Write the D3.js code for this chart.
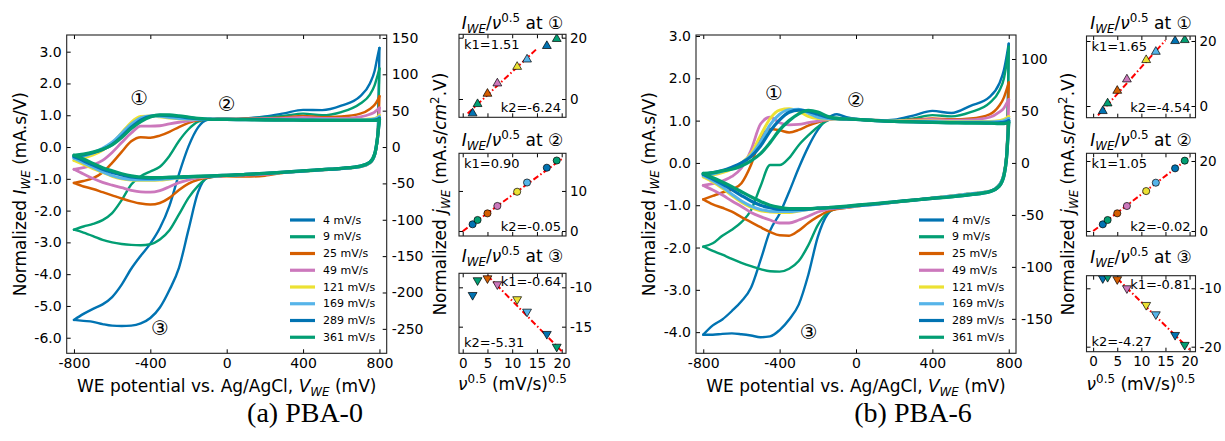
<!DOCTYPE html>
<html>
<head>
<meta charset="utf-8">
<script src="https://cdn.jsdelivr.net/npm/d3@7"></script>
<style>
  html, body { margin: 0; padding: 0; background: #fff; }
  svg { display: block; }
</style>
</head>
<body>
<svg id="chart" width="1225" height="441"></svg>
<script>
// ---------- shared data ----------
const potentials = [-800,-750,-700,-650,-600,-550,-500,-450,-400,-350,-300,-250,-200,-150,-100,-50,
                    0,100,200,300,400,500,600,700,750,775,790,800];
const scanRates = [4, 9, 25, 49, 121, 169, 289, 361];
const rateColors = ["#0173b2","#029e73","#d55e00","#cc78bc","#ece133","#56b4e9","#0173b2","#029e73"];
const rateWidths = [2.4, 2.4, 2.5, 2.8, 2.9, 3.0, 3.2, 3.3];
const potentialTicks = [-800, -400, 0, 400, 800];
const sqrtRateTicks = [0, 5, 10, 15, 20];

// ---------- PBA-0: normalized current (mA.s/V), forward and reverse sweep ----------
const pba0Fwd4   = [-5.44,-5.25,-5.09,-4.95,-4.72,-4.33,-3.83,-3.42,-3.04,-2.55,-1.85,-0.85,0.02,0.62,0.86,0.88, 0.88,0.9,0.96,1.06,1.17,1.16,1.3,1.6, 2.0,2.4,2.85,3.12];
const pba0Rev4   = [-5.44,-5.47,-5.5,-5.57,-5.62,-5.63,-5.62,-5.55,-5.38,-5.05,-4.5,-3.8,-2.6,-1.42,-0.96,-0.92, -0.9,-0.87,-0.84,-0.8,-0.76,-0.72,-0.68,-0.62, -0.5,-0.25,0.3,3.12];
const pba0Fwd9   = [-2.6,-2.5,-2.42,-2.3,-2.08,-1.67,-1.18,-0.92,-0.77,-0.62,-0.28,0.19,0.56,0.8,0.87,0.88, 0.88,0.9,0.93,0.98,1.05,1.0,1.1,1.37, 1.65,1.95,2.25,2.47];
const pba0Rev9   = [-2.6,-2.69,-2.8,-2.92,-3.0,-3.05,-3.08,-3.09,-3.06,-2.91,-2.62,-2.12,-1.6,-1.22,-0.97,-0.92, -0.9,-0.86,-0.83,-0.79,-0.75,-0.71,-0.67,-0.61, -0.48,-0.22,0.3,2.47];
const pba0Fwd25  = [-1.13,-1.07,-0.98,-0.8,-0.5,-0.15,0.18,0.31,0.29,0.36,0.48,0.63,0.76,0.84,0.87,0.88, 0.88,0.89,0.9,0.93,0.98,0.94,0.96,1.05, 1.2,1.33,1.47,1.6];
const pba0Rev25  = [-1.13,-1.24,-1.32,-1.42,-1.52,-1.62,-1.71,-1.78,-1.81,-1.76,-1.6,-1.35,-1.15,-1.03,-0.96,-0.93, -0.92,-0.93,-0.9,-0.81,-0.76,-0.72,-0.68,-0.62, -0.5,-0.25,0.3,1.6];
const pba0Fwd49  = [-0.7,-0.65,-0.56,-0.42,-0.17,0.14,0.44,0.66,0.66,0.67,0.73,0.78,0.82,0.86,0.87,0.88, 0.88,0.88,0.89,0.9,0.93,0.9,0.9,0.95, 1.03,1.1,1.18,1.23];
const pba0Rev49  = [-0.7,-0.85,-0.99,-1.11,-1.2,-1.28,-1.36,-1.41,-1.42,-1.37,-1.25,-1.12,-1.03,-0.97,-0.94,-0.92, -0.9,-0.88,-0.86,-0.8,-0.76,-0.72,-0.68,-0.62, -0.5,-0.25,0.3,1.23];
const pba0Fwd121 = [-0.42,-0.35,-0.25,-0.1,0.12,0.45,0.78,0.96,0.98,0.95,0.91,0.89,0.88,0.87,0.87,0.87, 0.87,0.87,0.87,0.87,0.87,0.86,0.86,0.86, 0.88,0.9,0.95,1.0];
const pba0Rev121 = [-0.42,-0.55,-0.68,-0.8,-0.92,-1.0,-1.04,-1.05,-1.05,-1.04,-1.01,-0.98,-0.96,-0.94,-0.93,-0.91, -0.89,-0.86,-0.83,-0.8,-0.76,-0.72,-0.68,-0.62, -0.5,-0.25,0.3,1.0];
const pba0Fwd169 = [-0.35,-0.28,-0.18,-0.04,0.15,0.43,0.72,0.92,0.98,0.97,0.93,0.9,0.88,0.87,0.87,0.87, 0.87,0.87,0.86,0.86,0.86,0.86,0.85,0.85, 0.86,0.88,0.92,0.95];
const pba0Rev169 = [-0.35,-0.5,-0.64,-0.78,-0.9,-0.98,-1.02,-1.03,-1.03,-1.02,-1.0,-0.97,-0.95,-0.93,-0.92,-0.91, -0.89,-0.86,-0.83,-0.8,-0.76,-0.72,-0.68,-0.62, -0.5,-0.25,0.3,0.95];
const pba0Fwd289 = [-0.3,-0.25,-0.18,-0.08,0.08,0.33,0.62,0.85,0.97,1.0,0.99,0.96,0.92,0.89,0.88,0.87, 0.87,0.86,0.86,0.85,0.85,0.84,0.84,0.84, 0.84,0.85,0.87,0.9];
const pba0Rev289 = [-0.3,-0.43,-0.57,-0.7,-0.8,-0.88,-0.94,-0.97,-0.98,-0.97,-0.96,-0.95,-0.94,-0.93,-0.92,-0.9, -0.89,-0.86,-0.83,-0.79,-0.75,-0.71,-0.67,-0.6, -0.48,-0.22,0.3,0.9];
const pba0Fwd361 = [-0.26,-0.22,-0.16,-0.07,0.07,0.3,0.58,0.8,0.95,1.01,1.01,0.98,0.94,0.9,0.88,0.87, 0.87,0.86,0.85,0.85,0.84,0.84,0.84,0.84, 0.84,0.84,0.85,0.87];
const pba0Rev361 = [-0.26,-0.38,-0.52,-0.65,-0.75,-0.84,-0.91,-0.95,-0.96,-0.96,-0.95,-0.94,-0.93,-0.92,-0.91,-0.9, -0.89,-0.86,-0.83,-0.79,-0.75,-0.71,-0.67,-0.6, -0.48,-0.22,0.3,0.87];

// ---------- PBA-6 ----------
const pba6Fwd4   = [-4.06,-3.84,-3.7,-3.5,-3.27,-2.95,-2.3,-1.6,-1.2,-0.68,-0.12,0.38,0.78,1.05,1.15,1.08, 1.04,1.0,1.02,1.12,1.23,1.18,1.35,1.56, 1.87,2.2,2.55,2.82];
const pba6Rev4   = [-4.06,-4.06,-4.04,-4.03,-4.05,-4.08,-4.12,-4.1,-3.95,-3.7,-3.35,-2.65,-1.75,-1.22,-1.06,-1.03, -1.0,-0.97,-0.93,-0.88,-0.83,-0.78,-0.73,-0.67, -0.52,-0.25,0.3,2.82];
const pba6Fwd9   = [-1.98,-1.9,-1.72,-1.58,-1.4,-1.12,-0.55,-0.05,-0.05,0.12,0.42,0.65,0.85,1.0,1.07,1.05, 1.03,1.0,1.0,1.05,1.13,1.1,1.2,1.42, 1.7,2.0,2.4,2.75];
const pba6Rev9   = [-1.98,-2.08,-2.17,-2.27,-2.36,-2.44,-2.51,-2.56,-2.57,-2.5,-2.32,-1.95,-1.47,-1.18,-1.08,-1.04, -1.0,-0.97,-0.93,-0.88,-0.83,-0.78,-0.73,-0.67, -0.52,-0.25,0.3,2.75];
const pba6Fwd25  = [-0.86,-0.78,-0.7,-0.63,-0.48,-0.05,0.58,0.8,0.77,0.72,0.78,0.88,0.96,1.02,1.05,1.04, 1.03,1.01,1.0,1.02,1.05,1.03,1.05,1.15, 1.35,1.55,1.75,1.9];
const pba6Rev25  = [-0.86,-0.98,-1.06,-1.15,-1.28,-1.4,-1.52,-1.63,-1.71,-1.72,-1.6,-1.42,-1.27,-1.15,-1.09,-1.06, -1.03,-0.98,-0.93,-0.88,-0.83,-0.78,-0.73,-0.67, -0.52,-0.25,0.3,1.9];
const pba6Fwd49  = [-0.53,-0.49,-0.43,-0.32,-0.12,0.3,0.92,1.08,0.95,0.9,0.91,0.95,0.99,1.02,1.04,1.04, 1.03,1.01,1.0,1.01,1.03,1.01,1.02,1.08, 1.2,1.3,1.42,1.5];
const pba6Rev49  = [-0.53,-0.64,-0.76,-0.9,-1.03,-1.17,-1.27,-1.35,-1.42,-1.42,-1.35,-1.26,-1.16,-1.1,-1.07,-1.05, -1.02,-0.98,-0.93,-0.88,-0.83,-0.78,-0.73,-0.67, -0.52,-0.25,0.3,1.5];
const pba6Fwd121 = [-0.33,-0.29,-0.23,-0.14,0.0,0.22,0.65,1.05,1.25,1.28,1.22,1.1,1.05,1.04,1.04,1.04, 1.03,1.01,1.0,0.99,0.99,0.98,0.98,0.98, 1.0,1.03,1.07,1.1];
const pba6Rev121 = [-0.33,-0.45,-0.6,-0.77,-0.93,-1.05,-1.13,-1.16,-1.17,-1.17,-1.14,-1.1,-1.07,-1.06,-1.05,-1.04, -1.02,-0.98,-0.93,-0.88,-0.83,-0.78,-0.73,-0.67, -0.52,-0.25,0.25,1.1];
const pba6Fwd169 = [-0.3,-0.26,-0.2,-0.12,0.0,0.18,0.5,0.9,1.15,1.26,1.27,1.18,1.08,1.05,1.04,1.04, 1.03,1.01,0.99,0.98,0.98,0.97,0.97,0.97, 0.98,1.0,1.03,1.05];
const pba6Rev169 = [-0.3,-0.42,-0.57,-0.74,-0.9,-1.02,-1.1,-1.14,-1.15,-1.15,-1.13,-1.1,-1.07,-1.06,-1.05,-1.04, -1.02,-0.98,-0.93,-0.88,-0.83,-0.78,-0.73,-0.67, -0.52,-0.25,0.25,1.05];
const pba6Fwd289 = [-0.27,-0.23,-0.18,-0.1,0.0,0.15,0.4,0.75,1.02,1.2,1.25,1.22,1.15,1.08,1.05,1.04, 1.03,1.0,0.98,0.97,0.96,0.95,0.95,0.94, 0.95,0.96,0.98,1.0];
const pba6Rev289 = [-0.27,-0.38,-0.5,-0.63,-0.77,-0.9,-1.0,-1.06,-1.1,-1.1,-1.1,-1.09,-1.07,-1.06,-1.05,-1.03, -1.01,-0.97,-0.92,-0.88,-0.84,-0.8,-0.75,-0.68, -0.55,-0.3,0.2,1.0];
const pba6Fwd361 = [-0.25,-0.23,-0.19,-0.15,-0.07,0.05,0.22,0.48,0.78,1.0,1.16,1.24,1.2,1.1,1.05,1.04, 1.03,1.0,0.98,0.97,0.96,0.95,0.94,0.94, 0.93,0.93,0.94,0.96];
const pba6Rev361 = [-0.25,-0.35,-0.45,-0.56,-0.68,-0.8,-0.91,-1.0,-1.05,-1.08,-1.08,-1.08,-1.07,-1.06,-1.04,-1.02, -1.0,-0.96,-0.92,-0.88,-0.84,-0.8,-0.75,-0.68, -0.55,-0.3,0.2,0.96];

// ---------- peak current density / sqrt(scan rate) at points 1, 2, 3 ----------
const pba0Peak1 = [-4.67,-1.63,1.73,5.1,10.5,12.9,17.3,19.6];
const pba0Peak2 = [1.67,2.75,4.4,6.25,9.8,12.1,15.8,17.6];
const pba0Peak3 = [-10.98,-9.11,-8.86,-9.62,-11.52,-13.1,-15.93,-17.55];
const pba6Peak1 = [-1.54,0.82,4.7,8.2,14.15,16.7,20.0,20.3];
const pba6Peak2 = [1.9,3.14,5.05,7.14,11.4,13.8,17.9,20.1];
const pba6Peak3 = [-8.28,-8.06,-8.45,-10.0,-12.86,-14.46,-18.0,-19.7];

// linear fits y = k1 * x + k2 and the sqrt(rate) span each fit covers
const pba0K1 = [1.51, 0.90, -0.64];
const pba0K2 = [-6.24, -0.05, -5.31];
const pba6K1 = [1.65, 1.05, -0.81];
const pba6K2 = [-4.54, -0.02, -4.27];
const fitSpans = [[1, 15], [0, 20], [5, 20]];

// tick values
const pba0LeftTicks  = [-6,-5,-4,-3,-2,-1,0,1,2,3];
const pba0RightTicks = [-250,-200,-150,-100,-50,0,50,100,150];
const pba6LeftTicks  = [-4,-3,-2,-1,0,1,2,3];
const pba6RightTicks = [-150,-100,-50,0,50,100];
const pba0InsetTicks = [[0, 20], [0, 10], [-15, -10]];
const pba6InsetTicks = [[0, 20], [0, 20], [-20, -10]];

// ---------- drawing ----------
const FONT = '"DejaVu Sans", Verdana, sans-serif';
const svg = d3.select("#chart");
svg.append("rect").attr("width", 1225).attr("height", 441).attr("fill", "#fff");

// Append text pieces with italic / subscript / superscript runs.
function rich(sel, parts, size) {
  let cur = 0;
  parts.forEach(p => {
    const t = sel.append("tspan").text(p.t);
    if (p.it) t.attr("font-style", "italic");
    const off = p.sub ? 0.24 * size : p.sup ? -0.42 * size : 0;
    if (off !== cur) { t.attr("dy", off - cur); cur = off; }
    if (p.sub || p.sup) t.attr("font-size", (0.7 * size).toFixed(2));
  });
  return sel;
}

function styleAxis(g, size) {
  g.select(".domain").remove();
  g.attr("font-family", FONT).attr("font-size", size);
  g.selectAll(".tick line").attr("stroke", "#000").attr("stroke-width", 1);
  g.selectAll(".tick text").attr("fill", "#000");
}

const titleParts = n => [
  {t: "I", it: true}, {t: "WE", it: true, sub: true}, {t: "/"},
  {t: "ν", it: true}, {t: "0.5", sup: true}, {t: " at " + n}
];

function drawPanel(p) {
  const g = svg.append("g");
  const x = d3.scaleLinear().domain([-838, 838]).range([p.left, p.right]);
  const y = d3.scaleLinear().domain(p.yDomain).range([p.bottom, p.top]);
  const yR = d3.scaleLinear().domain(p.yDomain.map(v => v * p.areaFactor)).range([p.bottom, p.top]);

  const clipId = "clip-" + p.id;
  g.append("clipPath").attr("id", clipId).append("rect")
    .attr("x", p.left).attr("y", p.top).attr("width", p.right - p.left).attr("height", p.bottom - p.top);

  const curves = g.append("g").attr("clip-path", `url(#${clipId})`);
  const line = d3.line().x((d, i) => x(potentials[i])).y(d => y(d)).curve(d3.curveMonotoneX);
  scanRates.forEach((r, i) => {
    [p.forward[i], p.reverse[i]].forEach(arr => {
      curves.append("path").attr("d", line(arr)).attr("fill", "none")
        .attr("stroke", rateColors[i]).attr("stroke-width", rateWidths[i])
        .attr("stroke-linejoin", "round").attr("stroke-linecap", "round");
    });
  });

  // axes with inward ticks
  g.append("g").attr("transform", `translate(0,${p.bottom})`)
    .call(d3.axisBottom(x).tickValues(potentialTicks).tickFormat(d => String(d))
      .tickSizeInner(-4).tickSizeOuter(0).tickPadding(5))
    .call(s => styleAxis(s, 14));
  g.append("g").attr("transform", `translate(0,${p.top})`)
    .call(d3.axisTop(x).tickValues(potentialTicks).tickFormat("").tickSizeInner(-4).tickSizeOuter(0))
    .call(s => styleAxis(s, 14));
  g.append("g").attr("transform", `translate(${p.left},0)`)
    .call(d3.axisLeft(y).tickValues(p.leftTicks).tickFormat(d => d.toFixed(1))
      .tickSizeInner(-4).tickSizeOuter(0).tickPadding(5))
    .call(s => styleAxis(s, 14));
  g.append("g").attr("transform", `translate(${p.right},0)`)
    .call(d3.axisRight(yR).tickValues(p.rightTicks).tickFormat(d => String(d))
      .tickSizeInner(-4).tickSizeOuter(0).tickPadding(5))
    .call(s => styleAxis(s, 14));

  g.append("rect").attr("x", p.left).attr("y", p.top)
    .attr("width", p.right - p.left).attr("height", p.bottom - p.top)
    .attr("fill", "none").attr("stroke", "#222").attr("stroke-width", 1.1);

  // circled peak markers
  p.notes.forEach((n, i) => {
    g.append("text").attr("x", x(n[0])).attr("y", y(n[1]))
      .attr("text-anchor", "middle").attr("dominant-baseline", "central")
      .attr("font-family", FONT).attr("font-size", 20).text(["①", "②", "③"][i]);
  });

  // legend
  const lg = g.append("g").attr("font-family", FONT).attr("font-size", 11);
  scanRates.forEach((r, i) => {
    const yy = 220 + i * 16.75;
    lg.append("line").attr("x1", p.legendX).attr("x2", p.legendX + 25).attr("y1", yy).attr("y2", yy)
      .attr("stroke", rateColors[i]).attr("stroke-width", 3.2);
    lg.append("text").attr("x", p.legendX + 33).attr("y", yy).attr("dominant-baseline", "central")
      .text(r + " mV/s");
  });

  // axis titles
  const cx = (p.left + p.right) / 2, cy = (p.top + p.bottom) / 2;
  rich(g.append("text").attr("x", cx).attr("y", 391.5).attr("text-anchor", "middle")
    .attr("font-family", FONT).attr("font-size", 17),
    [{t: "WE potential vs. Ag/AgCl, "}, {t: "V", it: true}, {t: "WE", it: true, sub: true}, {t: " (mV)"}], 17);
  rich(g.append("text").attr("transform", `translate(${p.leftLabelX},${cy}) rotate(-90)`)
    .attr("text-anchor", "middle").attr("font-family", FONT).attr("font-size", 17),
    [{t: "Normalized "}, {t: "I", it: true}, {t: "WE", it: true, sub: true}, {t: " (mA.s/V)"}], 17);
  rich(g.append("text").attr("transform", `translate(${p.rightLabelX},${cy}) rotate(-90)`)
    .attr("text-anchor", "middle").attr("font-family", FONT).attr("font-size", 17),
    [{t: "Normalized "}, {t: "j", it: true}, {t: "WE", it: true, sub: true}, {t: " (mA.s/"},
     {t: "cm", it: true}, {t: "2", sup: true}, {t: ".V)"}], 17);

  // caption
  g.append("text").attr("x", p.captionX).attr("y", 422).attr("text-anchor", "middle")
    .attr("font-family", '"Liberation Serif", "DejaVu Serif", serif').attr("font-size", 28)
    .text(p.caption);

  // scan-rate analysis insets
  p.insets.forEach((q, k) => drawInset(q, k, p));
}

function drawInset(q, k, p) {
  const g = svg.append("g");
  const x = d3.scaleLinear().domain(p.insetXDomain).range([p.insetLeft, p.insetRight]);
  const y = d3.scaleLinear().domain(q.yDomain).range([q.bottom, q.top]);
  const clipId = `clip-${p.id}-inset${k}`;
  g.append("clipPath").attr("id", clipId).append("rect")
    .attr("x", p.insetLeft).attr("y", q.top).attr("width", p.insetRight - p.insetLeft).attr("height", q.bottom - q.top);

  const isLast = k === 2;
  g.append("g").attr("transform", `translate(0,${q.bottom})`)
    .call(d3.axisBottom(x).tickValues(sqrtRateTicks).tickFormat(isLast ? (d => String(d)) : "")
      .tickSizeInner(-4).tickSizeOuter(0).tickPadding(5))
    .call(s => styleAxis(s, 13.5));
  g.append("g").attr("transform", `translate(0,${q.top})`)
    .call(d3.axisTop(x).tickValues(sqrtRateTicks).tickFormat("").tickSizeInner(-4).tickSizeOuter(0))
    .call(s => styleAxis(s, 13.5));
  g.append("g").attr("transform", `translate(${p.insetRight},0)`)
    .call(d3.axisRight(y).tickValues(q.ticks).tickFormat(d => String(d))
      .tickSizeInner(-4).tickSizeOuter(0).tickPadding(4))
    .call(s => styleAxis(s, 13.5));
  g.append("g").attr("transform", `translate(${p.insetLeft},0)`)
    .call(d3.axisLeft(y).tickValues(q.ticks).tickFormat("").tickSizeInner(-4).tickSizeOuter(0))
    .call(s => styleAxis(s, 13.5));

  const plot = g.append("g").attr("clip-path", `url(#${clipId})`);
  // fitted line
  const span = fitSpans[k];
  const fit = span.map(v => [v, q.k1 * v + q.k2]);
  plot.append("path").attr("d", d3.line().x(d => x(d[0])).y(d => y(d[1]))(fit))
    .attr("fill", "none").attr("stroke", "#ff0000").attr("stroke-width", 2)
    .attr("stroke-dasharray", "6,2.5,1.5,2.5");

  // markers
  const shape = k === 1 ? d3.symbolCircle : d3.symbolTriangle;
  const size = k === 1 ? 40 : 34;
  q.values.forEach((v, i) => {
    const rot = k === 2 ? 180 : 0;
    plot.append("path").attr("d", d3.symbol().type(shape).size(size)())
      .attr("transform", `translate(${x(Math.sqrt(scanRates[i]))},${y(v)}) rotate(${rot})`)
      .attr("fill", rateColors[i]).attr("stroke", "#000").attr("stroke-width", 0.7);
  });

  g.append("rect").attr("x", p.insetLeft).attr("y", q.top)
    .attr("width", p.insetRight - p.insetLeft).attr("height", q.bottom - q.top)
    .attr("fill", "none").attr("stroke", "#222").attr("stroke-width", 1.1);

  // slope / intercept labels
  const kt = g.append("g").attr("font-family", FONT).attr("font-size", 13);
  const k1Text = "k1=" + q.k1.toFixed(2), k2Text = "k2=" + q.k2.toFixed(2);
  if (k < 2) {
    kt.append("text").attr("x", p.insetLeft + 5).attr("y", q.top + 14.5).text(k1Text);
    kt.append("text").attr("x", p.insetRight - 5).attr("y", q.bottom - 5.5).attr("text-anchor", "end").text(k2Text);
  } else {
    kt.append("text").attr("x", p.insetRight - 5).attr("y", q.top + 13).attr("text-anchor", "end").text(k1Text);
    kt.append("text").attr("x", p.insetLeft + 5).attr("y", q.bottom - 6).text(k2Text);
  }

  // title
  const mid = (p.insetLeft + p.insetRight) / 2;
  rich(g.append("text").attr("x", mid).attr("y", q.titleY).attr("text-anchor", "middle")
    .attr("font-family", FONT).attr("font-size", 17), titleParts(["①", "②", "③"][k]), 17);

  if (isLast) {
    rich(g.append("text").attr("x", mid).attr("y", 390).attr("text-anchor", "middle")
      .attr("font-family", FONT).attr("font-size", 17),
      [{t: "ν", it: true}, {t: "0.5", sup: true}, {t: " (mV/s)"}, {t: "0.5", sup: true}], 17);
  }
}

drawPanel({
  id: "pba0", left: 66.7, right: 386.7, top: 35, bottom: 353.3,
  yDomain: [-6.49, 3.525], areaFactor: 43.7,
  leftTicks: pba0LeftTicks, rightTicks: pba0RightTicks,
  forward: [pba0Fwd4, pba0Fwd9, pba0Fwd25, pba0Fwd49, pba0Fwd121, pba0Fwd169, pba0Fwd289, pba0Fwd361],
  reverse: [pba0Rev4, pba0Rev9, pba0Rev25, pba0Rev49, pba0Rev121, pba0Rev169, pba0Rev289, pba0Rev361],
  notes: [[-458, 1.53], [0, 1.35], [-350, -5.7]],
  legendX: 290, leftLabelX: 26, rightLabelX: 446,
  caption: "(a) PBA-0", captionX: 305,
  insetLeft: 459, insetRight: 566, insetXDomain: [-0.75, 20.87],
  insets: [
    {top: 34.3, bottom: 117.3, yDomain: [-5.97, 21.1], ticks: pba0InsetTicks[0], values: pba0Peak1, k1: pba0K1[0], k2: pba0K2[0], titleY: 29},
    {top: 153.3, bottom: 236, yDomain: [-1.25, 19.4], ticks: pba0InsetTicks[1], values: pba0Peak2, k1: pba0K1[1], k2: pba0K2[1], titleY: 146},
    {top: 273.3, bottom: 353.3, yDomain: [-18.38, -8.22], ticks: pba0InsetTicks[2], values: pba0Peak3, k1: pba0K1[2], k2: pba0K2[2], titleY: 262}
  ]
});

drawPanel({
  id: "pba6", left: 696, right: 1016, top: 35, bottom: 353.3,
  yDomain: [-4.5, 3.024], areaFactor: 40.7,
  leftTicks: pba6LeftTicks, rightTicks: pba6RightTicks,
  forward: [pba6Fwd4, pba6Fwd9, pba6Fwd25, pba6Fwd49, pba6Fwd121, pba6Fwd169, pba6Fwd289, pba6Fwd361],
  reverse: [pba6Rev4, pba6Rev9, pba6Rev25, pba6Rev49, pba6Rev121, pba6Rev169, pba6Rev289, pba6Rev361],
  notes: [[-429, 1.65], [0, 1.49], [-247, -3.99]],
  legendX: 919, leftLabelX: 654.5, rightLabelX: 1074,
  caption: "(b) PBA-6", captionX: 913,
  insetLeft: 1086.5, insetRight: 1195.5, insetXDomain: [-1.38, 21.23],
  insets: [
    {top: 36, bottom: 117.7, yDomain: [-3.6, 21.54], ticks: pba6InsetTicks[0], values: pba6Peak1, k1: pba6K1[0], k2: pba6K2[0], titleY: 29},
    {top: 153.3, bottom: 236, yDomain: [-1.43, 22.2], ticks: pba6InsetTicks[1], values: pba6Peak2, k1: pba6K1[1], k2: pba6K2[1], titleY: 146},
    {top: 275.7, bottom: 351.7, yDomain: [-20.86, -7.84], ticks: pba6InsetTicks[2], values: pba6Peak3, k1: pba6K1[2], k2: pba6K2[2], titleY: 263}
  ]
});
</script>
</body>
</html>
